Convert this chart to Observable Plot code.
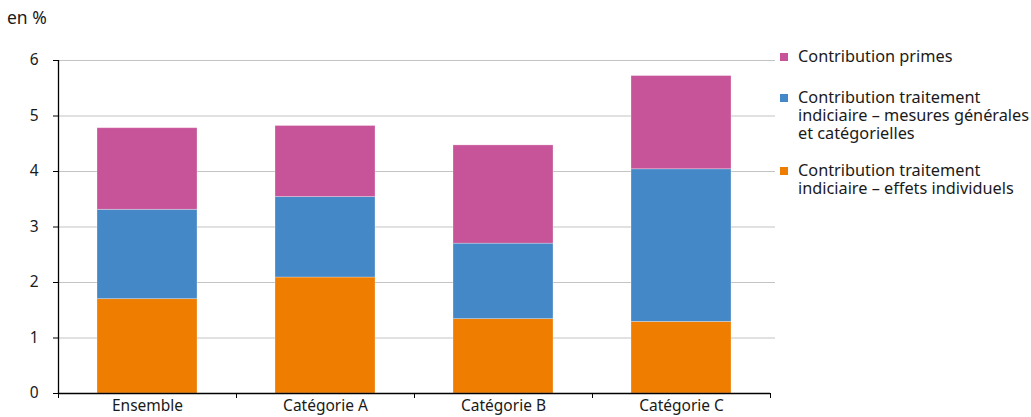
<!DOCTYPE html>
<html>
<head>
<meta charset="utf-8">
<script src="https://cdn.jsdelivr.net/npm/d3@7"></script>
<script src="https://cdn.jsdelivr.net/npm/@observablehq/plot@0.6"></script>
<style>
  html, body { margin: 0; padding: 0; background: #fff; }
  #wrap { position: relative; width: 1031px; height: 417px; font-family: "Noto Sans", sans-serif; color: #1a1a1a; }
  #unit { position: absolute; left: 7px; top: 5px; font-size: 17.5px; }
  .item { position: absolute; left: 780px; font-size: 16.3px; line-height: 17.8px; }
  .txt { position: absolute; left: 18px; top: 0; white-space: pre; }
  .sw { position: absolute; left: 0; top: 5px; width: 8px; height: 8px; }
  #chart { position: absolute; left: 0; top: 0; }
</style>
</head>
<body>
<div id="wrap">
  <div id="chart"></div>
  <div id="unit">en %</div>
  <div id="legend"></div>
</div>
<script>
const categories = ["Ensemble", "Catégorie A", "Catégorie B", "Catégorie C"];
const seriesNames = [
  "Contribution traitement indiciaire – effets individuels",
  "Contribution traitement indiciaire – mesures générales et catégorielles",
  "Contribution primes"
];
const seriesColors = ["#ef7d00", "#4588c8", "#c75498"];
const effetsIndividuels = [1.70, 2.09, 1.34, 1.29];
const mesuresGenerales = [1.61, 1.45, 1.36, 2.75];
const primes = [1.47, 1.28, 1.77, 1.68];
const yTicks = [0, 1, 2, 3, 4, 5, 6];
const legendLabels = [
  "Contribution primes",
  "Contribution traitement\nindiciaire – mesures générales\net catégorielles",
  "Contribution traitement\nindiciaire – effets individuels"
];
const legendColors = ["#c75498", "#4588c8", "#ef7d00"];
const legendTops = [48, 89, 162];

const seriesValues = [effetsIndividuels, mesuresGenerales, primes];
const data = [];
seriesNames.forEach((s, si) => {
  categories.forEach((c, ci) => data.push({category: c, series: s, value: seriesValues[si][ci]}));
});

const step = (770 - 58) / categories.length;

const chart = Plot.plot({
  width: 1031,
  height: 417,
  marginTop: 60,
  marginBottom: 24,
  marginLeft: 58,
  marginRight: 261,
  style: {fontFamily: "'Noto Sans', sans-serif", fontSize: "15px", color: "#1a1a1a", background: "transparent"},
  x: {domain: categories, paddingInner: 0.44, paddingOuter: 0.22, label: null},
  y: {domain: [0, 6], label: null},
  color: {domain: seriesNames, range: seriesColors},
  marks: [
    Plot.gridY(yTicks.filter(d => d > 0), {stroke: "#c4c4c4", strokeOpacity: 1, strokeWidth: 1.2, insetRight: -5}),
    Plot.barY(data, Plot.stackY({order: seriesNames}, {x: "category", y: "value", fill: "series", stroke: "#fff", strokeOpacity: 0.35, strokeWidth: 0.8})),
    Plot.axisY({ticks: yTicks, tickFormat: d3.format("d"), tickSize: 5, tickPadding: 15, stroke: "#000", fontSize: 15.5, fill: "#1a1a1a"}),
    Plot.ruleY([0], {stroke: "#000", strokeWidth: 1.3}),
    Plot.axisX({tickSize: 0, tickPadding: 6, fontSize: 15.5, fill: "#1a1a1a"}),
    Plot.ruleX(categories, {x: d => d, y1: 0, y2: 0, insetBottom: -5, dx: -step / 2, stroke: "#000"}),
    Plot.ruleX(categories.slice(-1), {x: d => d, y1: 0, y2: 0, insetBottom: -5, dx: step / 2, stroke: "#000"}),
    Plot.ruleX(categories.slice(0, 1), {x: d => d, y1: 0, y2: 6, dx: -step / 2, stroke: "#000", strokeWidth: 1.3})
  ]
});
document.getElementById("chart").appendChild(chart);

const legend = document.getElementById("legend");
legendLabels.forEach((label, i) => {
  const item = document.createElement("div");
  item.className = "item";
  item.style.top = legendTops[i] + "px";
  const sw = document.createElement("span");
  sw.className = "sw";
  sw.style.background = legendColors[i];
  item.appendChild(sw);
  const txt = document.createElement("div");
  txt.className = "txt";
  txt.textContent = label;
  item.appendChild(txt);
  legend.appendChild(item);
});
</script>
</body>
</html>
